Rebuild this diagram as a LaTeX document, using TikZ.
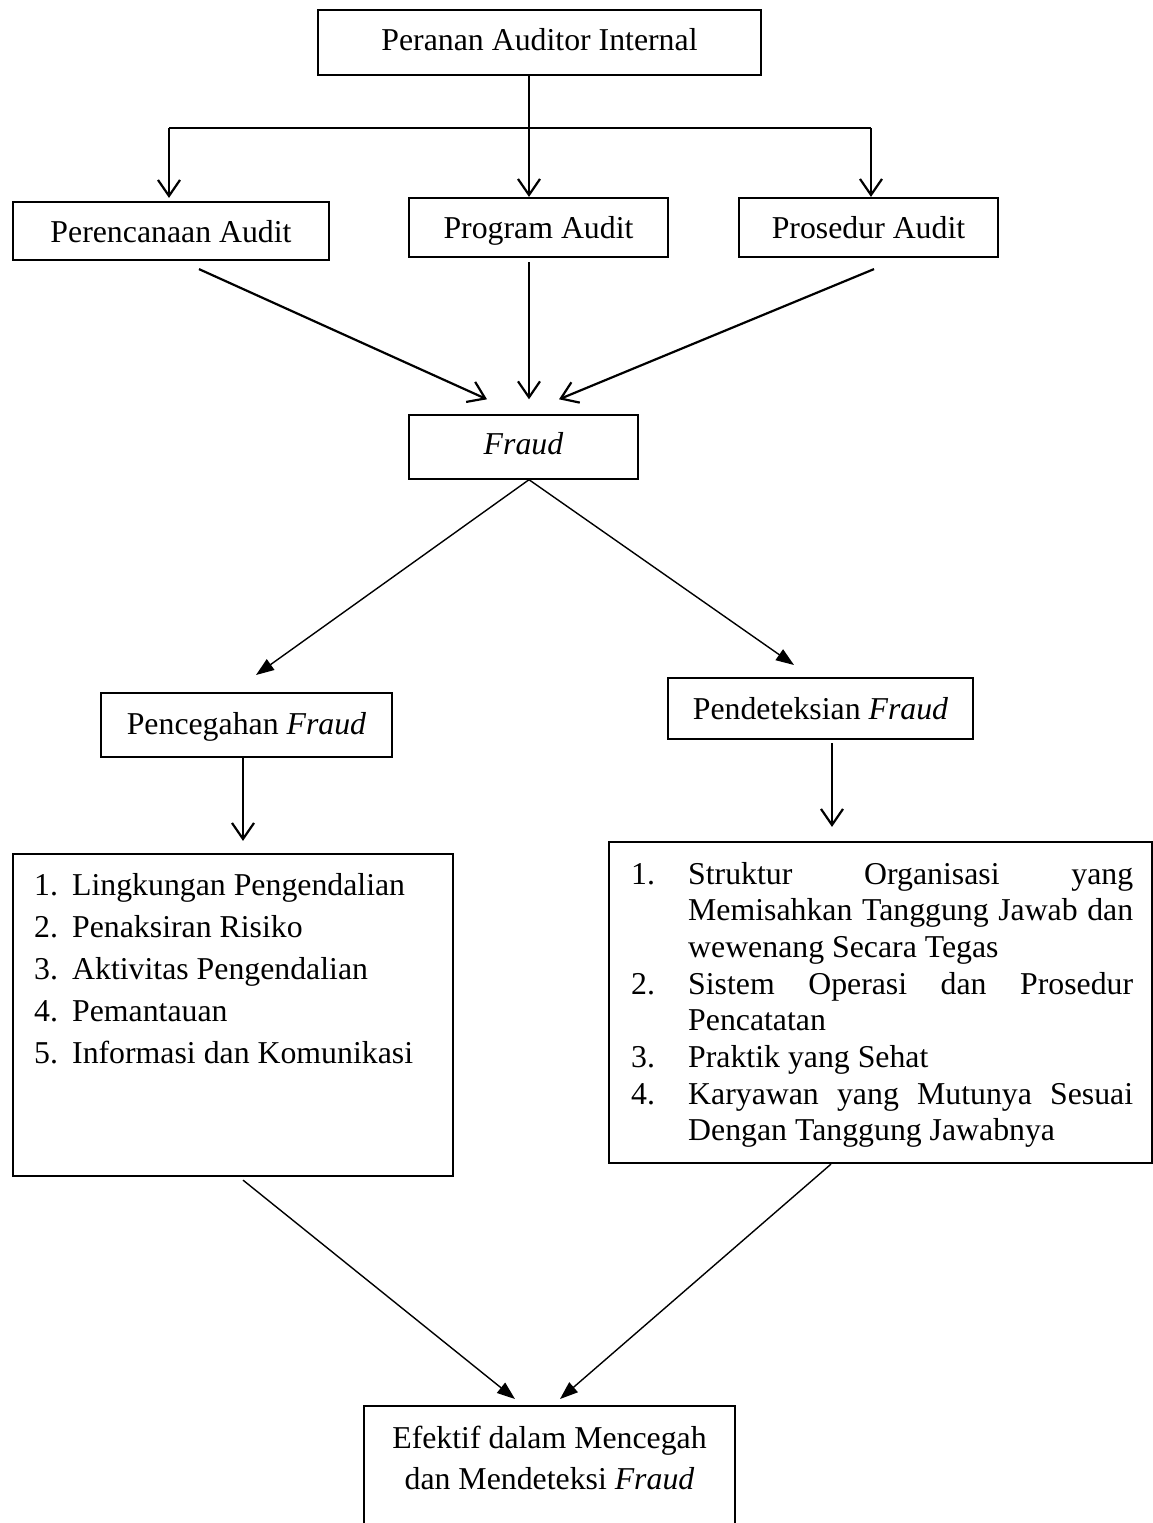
\documentclass[tikz,border=0pt]{standalone}
\usepackage{fontspec}
\setmainfont{Liberation Serif}
\usetikzlibrary{arrows.meta,calc}
\newcommand\dgsz{\fontsize{31.8}{38}\selectfont}
\tikzset{
  box/.style={draw, line width=2.2pt, inner sep=0pt, font=\dgsz, text depth=6pt},
  barb/.style={line width=2.2pt, -{Straight Barb[length=16pt,width=22pt]}},
  tri/.style={line width=1.4pt, -{Triangle[length=18pt,width=13pt]}},
  plain/.style={line width=2.2pt},
  txt/.style={inner sep=0pt, font=\dgsz}
}
\begin{document}
\begin{tikzpicture}[x=1pt,y=-1pt]
\useasboundingbox (0,0) rectangle (1153,1523);

% boxes
\node[box, minimum width=443, minimum height=65, text height=22pt] (top) at (539.5,42.5) {Peranan Auditor Internal};
\node[box, minimum width=316, minimum height=58, text height=29pt] (perenc) at (171,231) {Perencanaan Audit};
\node[box, minimum width=259, minimum height=59, text height=28pt] (prog) at (538.5,227.5) {Program Audit};
\node[box, minimum width=259, minimum height=59, text height=28pt] (pros) at (868.5,227.5) {Prosedur Audit};
\node[box, line width=1.4pt, minimum width=229, minimum height=64, text height=20pt] (fraud) at (523.5,447) {\textit{Fraud}};
\node[box, line width=2pt, minimum width=291, minimum height=64, text height=24pt] (pencegahan) at (246.5,725) {Pencegahan \textit{Fraud}};
\node[box, line width=2pt, minimum width=305, minimum height=61, text height=27pt] (pendeteksian) at (820.5,708.5) {Pendeteksian \textit{Fraud}};
\node[box, minimum width=440, minimum height=322] (leftlist) at (233,1015) {};
\node[box, minimum width=543, minimum height=321] (rightlist) at (880.5,1002.5) {};
\node[box, line width=2pt, minimum width=371, minimum height=200, anchor=north] (efektif) at (549.5,1405) {};

% list texts
\node[txt, anchor=base west] (lefttext) at (34,895) {\vtop{\baselineskip=42pt\lineskiplimit=-100pt
  \hbox{\makebox[38pt][l]{1.}Lingkungan Pengendalian}
  \hbox{\makebox[38pt][l]{2.}Penaksiran Risiko}
  \hbox{\makebox[38pt][l]{3.}Aktivitas Pengendalian}
  \hbox{\makebox[38pt][l]{4.}Pemantauan}
  \hbox{\makebox[38pt][l]{5.}Informasi dan Komunikasi}}};

\node[txt, anchor=base west] (righttext) at (631,884) {\vtop{\baselineskip=36.7pt\lineskiplimit=-100pt
  \hbox{\makebox[57pt][l]{1.}\hbox to 445pt{Struktur\hfill Organisasi\hfill yang}}
  \hbox{\hspace*{57pt}\hbox to 445pt{Memisahkan\hfill Tanggung\hfill Jawab\hfill dan}}
  \hbox{\hspace*{57pt}wewenang Secara Tegas}
  \hbox{\makebox[57pt][l]{2.}\hbox to 445pt{Sistem\hfill Operasi\hfill dan\hfill Prosedur}}
  \hbox{\hspace*{57pt}Pencatatan}
  \hbox{\makebox[57pt][l]{3.}Praktik yang Sehat}
  \hbox{\makebox[57pt][l]{4.}\hbox to 445pt{Karyawan\hfill yang\hfill Mutunya\hfill Sesuai}}
  \hbox{\hspace*{57pt}Dengan Tanggung Jawabnya}}};

\node[txt, anchor=base] (efA) at (549.5,1448) {Efektif dalam Mencegah};
\node[txt, anchor=base] (efB) at (549.5,1489) {dan Mendeteksi \textit{Fraud}};

% connectors top
\coordinate (jx) at (529,0);
\coordinate (barL) at (169,128);
\coordinate (barR) at (871,128);
\draw[barb] (top.south -| jx) -- (prog.north -| jx);
\draw[plain] (barL) -- (barR);
\draw[barb] (barL) -- ($(perenc.north -| barL)+(0,-3)$);
\draw[barb] (barR) -- (pros.north -| barR);

\draw[barb] ($(perenc.south)+(28,8)$) -- ($(fraud.north)+(-36.5,-15)$);
\draw[barb] ($(prog.south -| jx)+(0,4)$) -- ($(fraud.north -| jx)+(0,-15)$);
\draw[barb] ($(pros.south)+(5.5,11)$) -- ($(fraud.north)+(35.5,-15)$);

% from fraud
\draw[tri] ($(fraud.south)+(5.5,0)$) -- ($(pencegahan.north)+(9.5,-17)$);
\draw[tri] ($(fraud.south)+(5.5,0)$) -- ($(pendeteksian.north)+(-26.5,-12)$);

\draw[barb] ($(pencegahan.south)+(-3.5,0)$) -- ($(leftlist.north)+(10,-12)$);
\draw[barb] ($(pendeteksian.south)+(11.5,3)$) -- ($(rightlist.north)+(-48.5,-14)$);

% to bottom
\draw[tri] ($(leftlist.south)+(10,3)$) -- ($(efektif.north)+(-34.5,-6)$);
\draw[tri] ($(rightlist.south)+(-49.5,0)$) -- ($(efektif.north)+(10.5,-6)$);
\end{tikzpicture}
\end{document}
